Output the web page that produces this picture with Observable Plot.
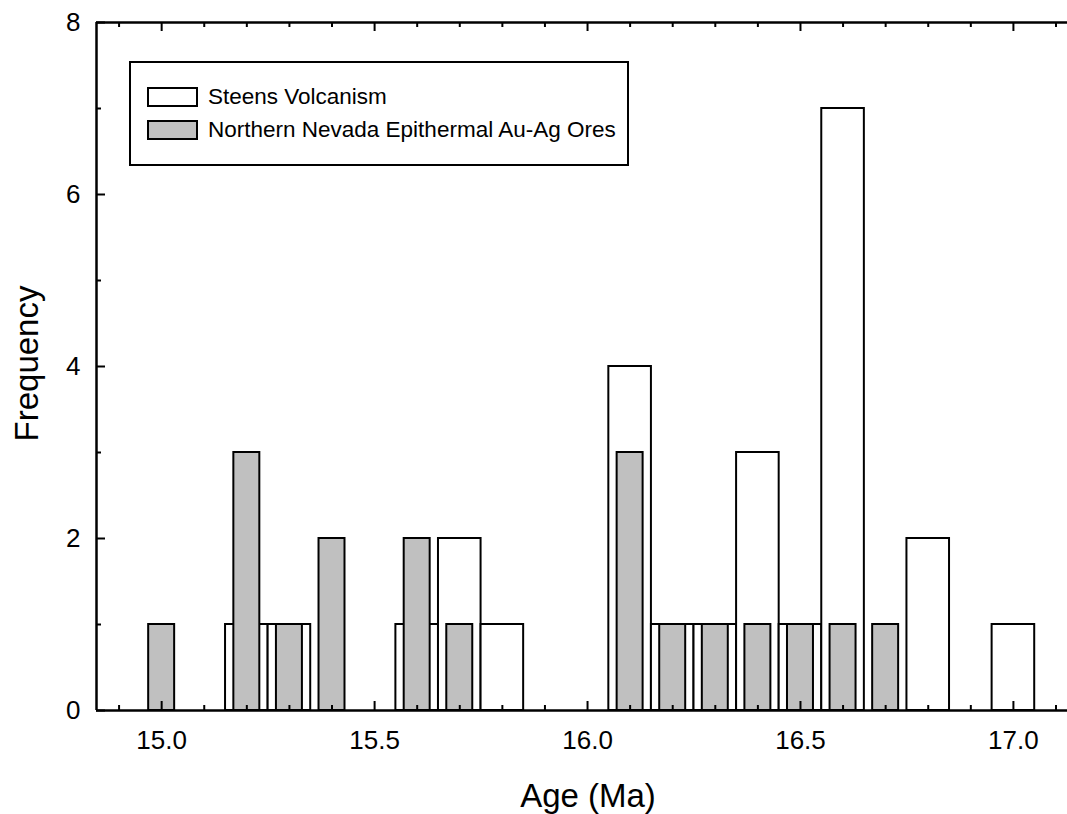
<!DOCTYPE html>
<html>
<head>
<meta charset="utf-8">
<script src="https://cdn.jsdelivr.net/npm/d3@7"></script>
<script src="https://cdn.jsdelivr.net/npm/@observablehq/plot@0.6"></script>
<style>
  html, body { margin: 0; padding: 0; background: #fff; font-family: "Liberation Sans", Arial, sans-serif; overflow: hidden; }
  #wrap { position: relative; width: 1067px; height: 814px; }
  #wrap svg { display: block; }
  .legend { position: absolute; left: 129px; top: 61px; width: 496px; height: 101px;
            border: 2px solid #000; background: #fff; box-sizing: content-box; }
  .item { position: absolute; left: 16px; display: flex; align-items: center; }
  .sw { width: 47px; height: 16px; border: 2px solid #000; flex: none; }
  .lab { margin-left: 10px; font-size: 22.5px; color: #000; white-space: nowrap; line-height: 26px; }
</style>
</head>
<body>
<div id="wrap"></div>
<script>
// Data
const steensAges   = [15.2, 15.3, 15.6, 15.7, 15.8, 16.1, 16.2, 16.3, 16.4, 16.5, 16.6, 16.8, 17.0];
const steensCounts = [1,    1,    1,    2,    1,    4,    1,    1,    3,    1,    7,    2,    1];
const nevadaAges   = [15.0, 15.2, 15.3, 15.4, 15.6, 15.7, 16.1, 16.2, 16.3, 16.4, 16.5, 16.6, 16.7];
const nevadaCounts = [1,    3,    1,    2,    2,    1,    3,    1,    1,    1,    1,    1,    1];
const seriesNames  = ["Steens Volcanism", "Northern Nevada Epithermal Au-Ag Ores"];
const seriesFills  = ["#ffffff", "#c0c0c0"];
const xTickLabels  = [15.0, 15.5, 16.0, 16.5, 17.0];
const yTickLabels  = [0, 2, 4, 6, 8];
const xTitle = "Age (Ma)";
const yTitle = "Frequency";

const xDomain = [14.847, 17.127];
const yDomain = [0, 8];
const binWidth = 0.1;
const innerWidth = 0.061;

const W = 1067, H = 814;
const mL = 96, mR = 0, mT = 22, mB = 104;
const plotW = W - mL - mR, plotH = H - mT - mB;

const steens = steensAges.map((a, i) => ({age: a, count: steensCounts[i]}));
const nevada = nevadaAges.map((a, i) => ({age: a, count: nevadaCounts[i]}));

const xAll = d3.range(149, 172).map(d => d / 10);
const xMajor = xAll.filter(d => Math.abs(d * 2 - Math.round(d * 2)) < 1e-6);
const xMinor = xAll.filter(d => !xMajor.includes(d));
const yAll = d3.range(0, 9);
const yMajor = yAll.filter(d => d % 2 === 0);
const yMinor = yAll.filter(d => d % 2 !== 0);

const major = 9, minor = 5;

const chart = Plot.plot({
  width: W, height: H,
  marginLeft: mL, marginRight: mR, marginTop: mT, marginBottom: mB,
  x: {domain: xDomain},
  y: {domain: yDomain},
  style: {fontFamily: "'Liberation Sans', Arial, sans-serif", fontSize: "26px", color: "#000", background: "#fff"},
  marks: [
    Plot.rect(steens, {x1: d => d.age - binWidth / 2, x2: d => d.age + binWidth / 2, y1: 0, y2: "count",
      fill: seriesFills[0], stroke: "#000", strokeWidth: 2}),
    Plot.rect(nevada, {x1: d => d.age - innerWidth / 2, x2: d => d.age + innerWidth / 2, y1: 0, y2: "count",
      fill: seriesFills[1], stroke: "#000", strokeWidth: 2}),
    // frame lines
    Plot.ruleX([xDomain[0]], {stroke: "#000", strokeWidth: 2.5}),
    Plot.ruleY([yDomain[0], yDomain[1]], {stroke: "#000", strokeWidth: 2.5}),
    // inward ticks bottom
    Plot.tickX(xMajor, {x: d => d, insetTop: plotH - major, stroke: "#000", strokeWidth: 2}),
    Plot.tickX(xMinor, {x: d => d, insetTop: plotH - minor, stroke: "#000", strokeWidth: 2}),
    // inward ticks top
    Plot.tickX(xMajor, {x: d => d, insetBottom: plotH - major, stroke: "#000", strokeWidth: 2}),
    Plot.tickX(xMinor, {x: d => d, insetBottom: plotH - minor, stroke: "#000", strokeWidth: 2}),
    // inward ticks left
    Plot.tickY(yMajor, {y: d => d, insetRight: plotW - major, stroke: "#000", strokeWidth: 2}),
    Plot.tickY(yMinor, {y: d => d, insetRight: plotW - minor, stroke: "#000", strokeWidth: 2}),
    // axis labels
    Plot.axisX(xTickLabels, {anchor: "bottom", tickSize: 0, tickPadding: 20, tickFormat: d3.format(".1f"), label: null, fontSize: 26}),
    Plot.axisY(yTickLabels, {anchor: "left", tickSize: 0, tickPadding: 16, tickFormat: d3.format("d"), label: null, fontSize: 26}),
    // titles
    Plot.text([xTitle], {text: d => d, frameAnchor: "bottom", textAnchor: "middle", dx: 6, dy: 86, fontSize: 33, lineAnchor: "middle", fill: "#000"}),
    Plot.text([yTitle], {text: d => d, frameAnchor: "left", textAnchor: "middle", dx: -69, dy: -3, rotate: -90, fontSize: 33, lineAnchor: "middle", fill: "#000"})
  ]
});

const wrap = document.getElementById("wrap");
wrap.appendChild(chart);

// legend inside plot area
const legend = document.createElement("div");
legend.className = "legend";
seriesNames.forEach((name, i) => {
  const item = document.createElement("div");
  item.className = "item";
  item.style.top = (21 + i * 33) + "px";
  const sw = document.createElement("div");
  sw.className = "sw";
  sw.style.background = seriesFills[i];
  const lab = document.createElement("span");
  lab.className = "lab";
  lab.textContent = name;
  item.appendChild(sw);
  item.appendChild(lab);
  legend.appendChild(item);
});
wrap.appendChild(legend);
</script>
</body>
</html>
